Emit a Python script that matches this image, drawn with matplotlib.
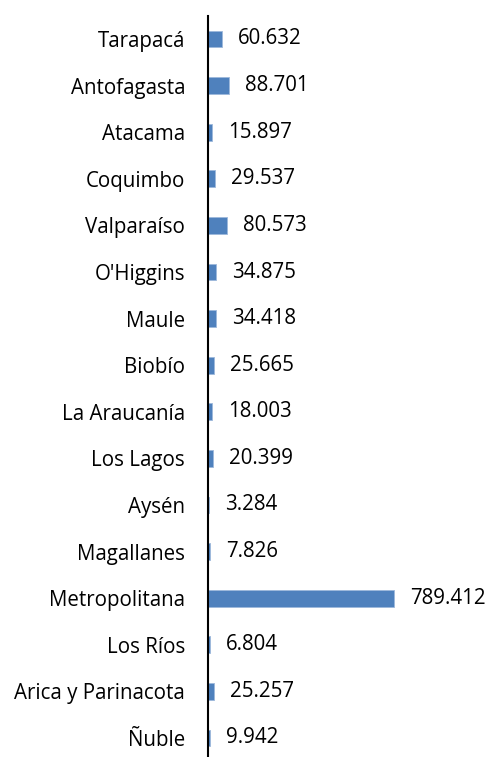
import matplotlib
matplotlib.use("Agg")
import matplotlib.pyplot as plt

regions = ["Tarapacá", "Antofagasta", "Atacama", "Coquimbo", "Valparaíso", "O'Higgins",
           "Maule", "Biobío", "La Araucanía", "Los Lagos", "Aysén", "Magallanes",
           "Metropolitana", "Los Ríos", "Arica y Parinacota", "Ñuble"]
values = [60632, 88701, 15897, 29537, 80573, 34875, 34418, 25665, 18003, 20399,
          3284, 7826, 789412, 6804, 25257, 9942]

plt.rcParams['font.family'] = ['Open Sans', 'DejaVu Sans']

W, H = 490, 757
fig = plt.figure(figsize=(W / 100, H / 100), dpi=100)
ax_left = 208 / W
ax_top = 15.7
ax_bot = 761.3
ax = fig.add_axes([ax_left, (H - ax_bot) / H, 1 - ax_left, (ax_bot - ax_top) / H])

y = list(range(len(regions)))
ax.barh(y, values, height=0.36, color="#4F81BD", edgecolor="#9DB8DB", linewidth=0.6)
ax.set_ylim(len(regions) - 0.5, -0.5)
ax.set_xlim(0, 282 / 186 * 789412)

for yi, v in zip(y, values):
    s = f"{v:,}".replace(",", ".")
    ax.annotate(s, (v, yi), xytext=(16, 0), textcoords="offset pixels",
                va="center", ha="left", fontsize=14.8, color="#000000")

ax.set_yticks(y)
ax.set_yticklabels(regions, fontsize=14.8)
ax.tick_params(axis="y", length=0, pad=16.5)
ax.set_xticks([])
for sp in ["top", "right", "bottom"]:
    ax.spines[sp].set_visible(False)
ax.spines["left"].set_linewidth(1.5)
ax.spines["left"].set_color("#000000")
ax.patch.set_alpha(0)

fig.savefig("out.png", dpi=100)
